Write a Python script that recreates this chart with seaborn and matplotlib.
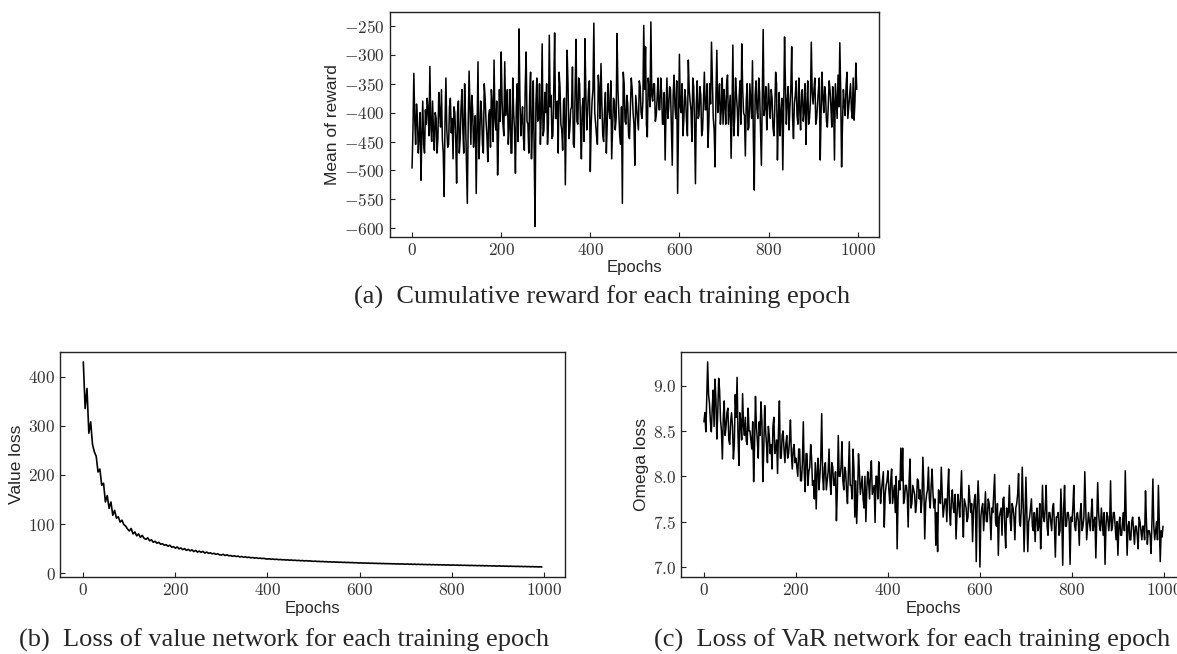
import numpy as np
import pandas as pd
import matplotlib
matplotlib.use("Agg")
import matplotlib.pyplot as plt
from matplotlib.ticker import FuncFormatter, MultipleLocator
import seaborn as sns

# ---------------- data ----------------
# reward / omega: values at epochs 0,4,8,... (a) and at 2,6,10,... (b)
epochs_2 = np.arange(0, 1000, 2)
epochs_4 = np.arange(0, 1000, 4)

reward_a = [
    -496, -332, -455, -410, -440, -517, -380, -470, -420, -395, -320, -450, -430, -400, -470, -365, -425, -445, -545, -340, -460, -390, -435, -480, -400,
    -522, -380, -445, -360, -470, -410, -557, -328, -455, -395, -430, -540, -312, -440, -400, -470, -375, -440, -405, -460, -385, -309, -430, -508, -360,
    -295, -420, -312, -380, -455, -360, -470, -400, -505, -350, -255, -440, -390, -465, -295, -420, -370, -480, -345, -597, -340, -410, -455, -281, -430,
    -400, -455, -266, -370, -440, -262, -410, -470, -355, -430, -380, -525, -292, -445, -395, -321, -460, -273, -420, -350, -480, -375, -272, -430, -360,
    -502, -380, -245, -420, -455, -360, -315, -440, -395, -470, -350, -410, -480, -375, -430, -263, -400, -455, -557, -350, -420, -385, -445, -340, -400,
    -491, -390, -430, -355, -410, -249, -286, -442, -360, -243, -380, -350, -405, -340, -395, -365, -420, -482, -340, -390, -360, -491, -335, -410, -540,
    -299, -400, -440, -360, -415, -309, -380, -450, -355, -523, -345, -405, -370, -430, -330, -395, -460, -350, -278, -410, -494, -292, -380, -420, -340,
    -360, -420, -335, -395, -479, -283, -410, -370, -440, -345, -281, -400, -475, -350, -425, -380, -310, -534, -345, -410, -365, -491, -256, -390, -430,
    -350, -410, -375, -440, -330, -482, -365, -400, -499, -269, -420, -355, -390, -286, -445, -370, -405, -340, -430, -360, -395, -455, -345, -410, -278,
    -385, -340, -410, -360, -482, -330, -400, -370, -425, -345, -390, -355, -482, -380, -335, -279, -494, -360, -405, -330, -390, -350, -410, -413, -314,
]
reward_b = [
    -430, -410, -385, -470, -400, -435, -455, -395, -375, -440, -420, -380, -465, -410, -445, -400, -360, -470, -415, -430, -455, -375, -410, -390, -445,
    -400, -470, -390, -430, -350, -480, -420, -395, -370, -460, -405, -425, -480, -380, -455, -350, -415, -485, -395, -360, -450, -410, -380, -440, -415,
    -380, -440, -405, -360, -420, -470, -340, -430, -390, -450, -370, -410, -445, -355, -415, -470, -330, -425, -460, -385, -415, -350, -400, -440, -365,
    -350, -420, -390, -445, -360, -410, -380, -330, -420, -465, -375, -405, -350, -430, -390, -455, -360, -415, -340, -420, -390, -450, -365, -400, -345,
    -420, -360, -400, -440, -335, -410, -385, -450, -365, -420, -395, -345, -430, -380, -410, -360, -440, -390, -330, -415, -370, -440, -395, -360, -420,
    -370, -410, -345, -400, -380, -360, -420, -340, -390, -370, -350, -415, -375, -395, -340, -420, -365, -395, -410, -355, -425, -370, -390, -345, -420,
    -390, -350, -410, -375, -440, -360, -395, -340, -420, -385, -410, -355, -440, -380, -395, -350, -420, -385, -345, -430, -370, -400, -350, -395, -420,
    -385, -350, -420, -370, -400, -440, -340, -395, -375, -420, -360, -405, -380, -430, -350, -410, -445, -370, -395, -340, -425, -380, -405, -355, -395,
    -385, -360, -425, -395, -350, -410, -440, -375, -395, -355, -380, -430, -360, -410, -385, -345, -420, -395, -365, -415, -350, -390, -420, -380, -365,
    -360, -420, -385, -340, -400, -375, -355, -415, -390, -360, -425, -380, -350, -410, -390, -365, -420, -385, -355, -410, -370, -395, -340, -380, -360,
]

value_loss = [
    430, 335, 376, 285, 308, 262, 247, 238, 206, 212, 179, 183, 145, 158, 132, 145, 118, 128, 112, 115, 104, 108, 99, 96, 90,
    86, 91, 80, 84, 76, 80, 73, 77, 71, 69, 72, 66, 68, 63, 65, 61, 63, 59, 60, 57, 58, 55, 57, 53, 54,
    51, 53.5, 49.5, 51.5, 48, 50, 46.5, 48.5, 45.5, 47.5, 44, 46.5, 43, 45, 42.5, 44.5, 41, 43, 40.5, 41.5, 39.5, 40.5, 38.5, 39.5, 37.5,
    37, 38.5, 36, 37.5, 35.5, 36, 34.5, 35.5, 34, 34.8, 33.2, 34, 32.5, 33.4, 32, 32.6, 31.4, 32, 30.8, 31.5, 30.2, 30.8, 29.8, 30.3, 29.3,
    28.8, 29.4, 28.4, 28.9, 28, 28.5, 27.6, 28, 27.2, 27.6, 26.8, 27.2, 26.5, 26.9, 26.1, 26.5, 25.8, 26.1, 25.4, 25.8, 25.1, 25.5, 24.8, 25.1, 24.5,
    24.2, 24.6, 23.9, 24.2, 23.6, 23.9, 23.3, 23.6, 23.0, 23.3, 22.7, 23.0, 22.5, 22.8, 22.2, 22.5, 22.0, 22.2, 21.7, 22.0, 21.5, 21.7, 21.3, 21.5, 21.0,
    20.8, 21.1, 20.6, 20.8, 20.4, 20.6, 20.2, 20.4, 20.0, 20.2, 19.8, 20.0, 19.6, 19.8, 19.4, 19.6, 19.3, 19.4, 19.1, 19.2, 18.9, 19.0, 18.7, 18.9, 18.6,
    18.4, 18.9, 18.2, 18.6, 18.0, 18.5, 17.8, 18.3, 17.7, 18.1, 17.5, 17.9, 17.4, 17.8, 17.2, 17.6, 17.1, 17.4, 16.9, 17.3, 16.8, 17.1, 16.6, 17.0, 16.5,
    16.4, 16.8, 16.2, 16.6, 16.1, 16.4, 15.9, 16.3, 15.8, 16.1, 15.6, 16.0, 15.5, 15.8, 15.3, 15.7, 15.2, 15.5, 15.0, 15.4, 14.9, 15.2, 14.7, 15.1, 14.6,
    14.5, 14.9, 14.3, 14.7, 14.2, 14.5, 14.0, 14.4, 13.9, 14.2, 13.7, 14.1, 13.6, 13.9, 13.4, 13.8, 13.3, 13.6, 13.1, 13.5, 13.0, 13.3, 12.8, 13.2, 12.6,
]

omega_a = [
    8.60, 8.49, 9.26, 8.80, 8.49, 8.95, 9.07, 8.41, 9.08, 8.62, 8.19, 8.83, 8.55, 8.75, 8.35, 8.70, 8.19, 8.90, 9.09, 8.12, 8.60, 8.91, 8.45, 8.39, 8.75,
    8.50, 8.30, 7.94, 8.88, 8.40, 8.60, 8.82, 7.94, 8.78, 8.35, 8.55, 8.25, 8.08, 8.65, 8.30, 8.03, 8.83, 8.20, 8.50, 8.15, 8.45, 8.25, 8.62, 8.08, 8.35,
    8.20, 8.00, 8.30, 7.95, 8.60, 7.83, 8.25, 8.05, 8.35, 7.90, 7.75, 7.64, 8.20, 8.00, 8.69, 7.85, 8.15, 7.95, 8.30, 7.80, 8.10, 7.90, 7.51, 8.45, 8.00,
    8.38, 7.85, 8.05, 7.70, 8.38, 7.90, 8.30, 7.55, 7.48, 8.25, 7.80, 8.00, 7.65, 7.50, 8.05, 7.75, 8.17, 7.85, 7.49, 8.00, 8.16, 7.70, 7.95, 7.44, 7.90,
    8.06, 7.70, 8.08, 7.80, 7.60, 7.20, 7.95, 8.31, 8.31, 7.75, 7.90, 7.44, 8.19, 7.70, 7.85, 7.60, 7.97, 7.75, 7.60, 8.21, 7.31, 7.80, 8.10, 7.65, 8.08,
    7.65, 7.24, 7.17, 7.80, 8.10, 7.55, 7.75, 7.50, 8.08, 7.46, 7.85, 7.60, 7.31, 7.80, 7.55, 8.06, 7.33, 7.70, 7.50, 7.90, 7.60, 7.28, 7.75, 7.06, 7.95,
    7.00, 7.65, 7.40, 7.83, 7.50, 7.70, 7.30, 7.60, 8.02, 7.45, 7.13, 7.60, 7.35, 7.77, 7.21, 7.55, 7.90, 7.40, 7.65, 7.30, 7.70, 8.03, 7.45, 8.10, 7.17,
    7.99, 7.17, 7.55, 7.75, 7.40, 7.28, 7.65, 7.45, 7.20, 7.90, 7.50, 7.90, 7.35, 7.60, 7.40, 7.70, 7.11, 7.55, 7.35, 7.86, 7.02, 7.90, 7.45, 7.60, 7.03,
    7.50, 7.90, 7.40, 7.60, 7.24, 7.70, 7.45, 8.05, 7.30, 7.60, 7.40, 7.75, 7.50, 7.10, 7.93, 7.45, 7.65, 7.35, 7.03, 7.60, 7.40, 7.95, 7.45, 7.60, 7.30,
    7.13, 7.55, 7.35, 7.60, 8.06, 7.13, 7.50, 7.30, 7.55, 7.25, 7.45, 7.20, 7.50, 7.30, 7.45, 7.84, 7.25, 7.40, 7.15, 7.97, 7.30, 7.50, 7.90, 7.06, 7.33,
]
omega_b = [
    8.70, 8.85, 8.90, 8.60, 8.75, 8.55, 8.85, 8.70, 8.95, 8.50, 8.65, 8.45, 8.70, 8.40, 8.60, 8.55, 8.35, 8.65, 8.45, 8.70, 8.40, 8.55, 8.65, 8.35, 8.50,
    8.40, 8.60, 8.35, 8.55, 8.20, 8.45, 8.60, 8.30, 8.50, 8.15, 8.45, 8.35, 8.55, 8.25, 8.40, 8.50, 8.20, 8.45, 8.30, 8.35, 8.20, 8.40, 8.25, 8.30, 8.15,
    8.10, 8.30, 7.95, 8.15, 8.05, 8.25, 7.90, 8.10, 8.20, 7.95, 8.15, 8.05, 7.85, 8.20, 8.00, 8.10, 7.85, 8.05, 7.95, 8.15, 7.90, 8.05, 7.85, 8.00, 8.10,
    7.95, 8.10, 7.85, 8.05, 7.90, 7.75, 8.10, 7.95, 7.80, 8.05, 7.90, 7.75, 8.00, 7.85, 7.95, 8.05, 7.80, 7.90, 8.00, 7.75, 7.95, 7.85, 8.05, 7.80, 7.95,
    7.85, 7.95, 7.70, 7.90, 8.00, 7.75, 7.85, 7.95, 7.70, 7.90, 7.80, 7.95, 7.65, 7.90, 7.80, 7.70, 7.95, 7.85, 7.75, 7.90, 7.70, 7.85, 7.75, 7.90, 7.80,
    7.75, 7.60, 7.85, 7.70, 7.80, 7.65, 7.75, 7.85, 7.60, 7.75, 7.65, 7.80, 7.55, 7.70, 7.80, 7.60, 7.75, 7.65, 7.55, 7.75, 7.70, 7.60, 7.80, 7.65, 7.70,
    7.55, 7.70, 7.60, 7.50, 7.75, 7.55, 7.65, 7.80, 7.50, 7.70, 7.55, 7.65, 7.75, 7.45, 7.65, 7.60, 7.50, 7.70, 7.55, 7.65, 7.80, 7.50, 7.65, 7.70, 7.55,
    7.60, 7.50, 7.65, 7.45, 7.60, 7.55, 7.40, 7.70, 7.50, 7.55, 7.65, 7.45, 7.60, 7.50, 7.65, 7.45, 7.55, 7.60, 7.40, 7.55, 7.65, 7.45, 7.60, 7.50, 7.55,
    7.65, 7.45, 7.55, 7.50, 7.60, 7.40, 7.55, 7.65, 7.45, 7.50, 7.60, 7.40, 7.55, 7.50, 7.60, 7.40, 7.50, 7.60, 7.45, 7.55, 7.50, 7.40, 7.60, 7.45, 7.50,
    7.45, 7.35, 7.50, 7.40, 7.55, 7.45, 7.30, 7.50, 7.40, 7.45, 7.35, 7.55, 7.40, 7.45, 7.30, 7.50, 7.40, 7.35, 7.50, 7.45, 7.40, 7.30, 7.50, 7.40, 7.45,
]

x_ticks = [0, 200, 400, 600, 800, 1000]
ylabels = ["Mean of reward", "Value loss", "Omega loss"]
xlabel = "Epochs"
captions = [
    "(a)  Cumulative reward for each training epoch",
    "(b)  Loss of value network for each training epoch",
    "(c)  Loss of VaR network for each training epoch",
]

# interleave the two reading passes into one series per panel
reward = np.column_stack([reward_a, reward_b]).ravel()
omega_loss = np.column_stack([omega_a, omega_b]).ravel()

# ---------------- style ----------------
sns.set_style("ticks")
plt.rcParams["mathtext.fontset"] = "cm"
plt.rcParams["font.family"] = ["Liberation Sans", "DejaVu Sans"]
plt.rcParams["xtick.direction"] = "in"
plt.rcParams["ytick.direction"] = "in"

fig = plt.figure(figsize=(11.77, 6.54), dpi=100)

axes = [
    fig.add_axes([0.3312, 0.6381, 0.4156, 0.3440]),
    fig.add_axes([0.0513, 0.1173, 0.4285, 0.3450]),
    fig.add_axes([0.5786, 0.1173, 0.4290, 0.3450]),
]
xs = [epochs_2, epochs_4, epochs_2]
series = [reward, value_loss, omega_loss]
yfmts = [lambda v, p: f"${v:g}$", lambda v, p: f"${v:g}$", lambda v, p: f"${v:.1f}$"]
ysteps = [50, 100, 0.5]
widths = [1.1, 1.2, 1.1]

for ax, x, y, lab, fmt, step, lw in zip(axes, xs, series, ylabels, yfmts, ysteps, widths):
    df = pd.DataFrame({"epoch": x, "val": y})
    sns.lineplot(data=df, x="epoch", y="val", ax=ax, color="black", linewidth=lw)
    ax.set_xticks(x_ticks)
    ax.yaxis.set_major_locator(MultipleLocator(step))
    ax.xaxis.set_major_formatter(FuncFormatter(lambda v, p: f"${v:g}$"))
    ax.yaxis.set_major_formatter(FuncFormatter(fmt))
    ax.tick_params(axis="both", which="major", length=3.5, width=0.8,
                   labelsize=12.5, labelcolor="#333333", color="#222222",
                   top=False, right=False)
    for sp in ax.spines.values():
        sp.set_visible(True)
        sp.set_color("#222222")
        sp.set_linewidth(1.0)
    ax.set_xlabel(xlabel, fontsize=12, labelpad=2)
    ax.set_ylabel(lab, fontsize=12.5, labelpad=3)
    ax.margins(x=0.05, y=0.05)

cap_font = dict(family=["Liberation Serif", "DejaVu Serif"], fontsize=19, ha="center", va="center")
fig.text(602 / 1177, 1 - 297 / 654, captions[0], **cap_font)
fig.text(284 / 1177, 1 - 640 / 654, captions[1], **cap_font)
fig.text(912 / 1177, 1 - 640 / 654, captions[2], **cap_font)

fig.savefig("out.png", dpi=100)
